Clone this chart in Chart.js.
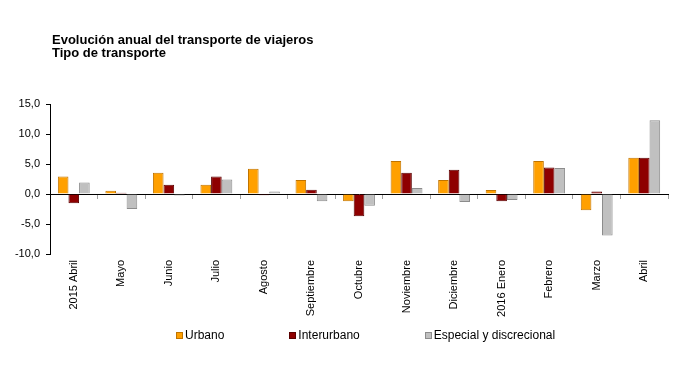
<!DOCTYPE html>
<html>
<head>
<meta charset="utf-8">
<script src="https://cdn.jsdelivr.net/npm/chart.js@4/dist/chart.umd.min.js"></script>
<style>
    body { margin: 0; background: #fff; }
    #wrap { position: relative; width: 700px; height: 372px; }
    #title {
        position: absolute; left: 52px; top: 33px;
        font: bold 13px 'Liberation Sans', Arial, sans-serif;
        line-height: 13px; color: #000;
    }
    #legend {
        position: absolute; left: 176px; top: 328px;
        display: flex; gap: 65px;
        font: 12px 'Liberation Sans', Arial, sans-serif; color: #000;
        line-height: 14px;
    }
    #legend span.item { display: flex; align-items: center; }
    #legend span.box {
        display: inline-block; width: 5px; height: 5px;
        border: 1px solid; margin-right: 2px;
    }
</style>
</head>
<body>
<div id="wrap">
    <canvas id="transportChart"></canvas>
    <div id="title">Evolución anual del transporte de viajeros<br>Tipo de transporte</div>
    <div id="legend"></div>
</div>
<script>
// Data
const months = ['2015 Abril', 'Mayo', 'Junio', 'Julio', 'Agosto', 'Septiembre', 'Octubre',
    'Noviembre', 'Diciembre', '2016 Enero', 'Febrero', 'Marzo', 'Abril'];
const urbano = [2.9, 0.55, 3.55, 1.55, 4.2, 2.35, -1.2, 5.5, 2.35, 0.65, 5.5, -2.7, 6.05];
const interurbano = [-1.55, 0.2, 1.55, 2.9, -0.2, 0.7, -3.7, 3.55, 4.05, -1.2, 4.4, 0.4, 6.05];
const especial = [1.9, -2.5, -0.25, 2.4, 0.4, -1.2, -1.95, 1.0, -1.35, -1.0, 4.35, -6.9, 12.3];
const yTicks = [-10, -5, 0, 5, 10, 15];

const baseFont = "'Liberation Sans', Arial, sans-serif";

const ctx = document.getElementById('transportChart');

const chart = new Chart(ctx, {
    type: 'bar',
    data: {
        labels: months,
        datasets: [
            {
                label: 'Urbano',
                data: urbano,
                backgroundColor: '#ffa000',
                borderColor: '#c07400',
                borderWidth: 1
            },
            {
                label: 'Interurbano',
                data: interurbano,
                backgroundColor: '#8e0000',
                borderColor: '#5a0000',
                borderWidth: 1
            },
            {
                label: 'Especial y discrecional',
                data: especial,
                backgroundColor: '#c0c0c0',
                borderColor: '#8c8c8c',
                borderWidth: 1
            }
        ]
    },
    options: {
        responsive: true,
        maintainAspectRatio: false,
        animation: false,
        categoryPercentage: 0.67,
        barPercentage: 1,
        layout: {
            padding: { top: 104, left: 0, right: 32, bottom: 0 }
        },
        plugins: {
            tooltip: { enabled: false },
            legend: { display: false }
        },
        scales: {
            x: {
                grid: { display: false, drawTicks: false },
                border: { display: false },
                ticks: {
                    autoSkip: false,
                    minRotation: 90,
                    maxRotation: 90,
                    padding: 6,
                    color: '#000',
                    font: { family: baseFont, size: 11 }
                },
                afterFit: function(scale) {
                    scale.height = 118;
                }
            },
            // zero line with small tick marks between months
            x2: {
                type: 'category',
                axis: 'x',
                position: { y: 0 },
                offset: true,
                ticks: { display: false },
                grid: {
                    offset: true,
                    drawOnChartArea: false,
                    drawTicks: true,
                    tickLength: 4,
                    color: '#a0a0a0'
                },
                border: { display: true, color: '#000', width: 1 }
            },
            y: {
                min: -10,
                max: 15,
                afterBuildTicks: function(scale) {
                    scale.ticks = yTicks.map(v => ({ value: v }));
                },
                grid: {
                    drawOnChartArea: false,
                    drawTicks: true,
                    tickLength: 4,
                    color: '#000'
                },
                border: { display: true, color: '#000' },
                ticks: {
                    padding: 6,
                    color: '#000',
                    font: { family: baseFont, size: 11 },
                    callback: function(value) {
                        return value.toFixed(1).replace('.', ',');
                    }
                },
                afterFit: function(scale) {
                    scale.width = 50;
                }
            }
        }
    }
});

// Legend built from the datasets
const legendEl = document.getElementById('legend');
chart.data.datasets.forEach(ds => {
    const item = document.createElement('span');
    item.className = 'item';
    const box = document.createElement('span');
    box.className = 'box';
    box.style.background = ds.backgroundColor;
    box.style.borderColor = ds.borderColor;
    item.appendChild(box);
    item.appendChild(document.createTextNode(ds.label));
    legendEl.appendChild(item);
});
</script>
</body>
</html>
